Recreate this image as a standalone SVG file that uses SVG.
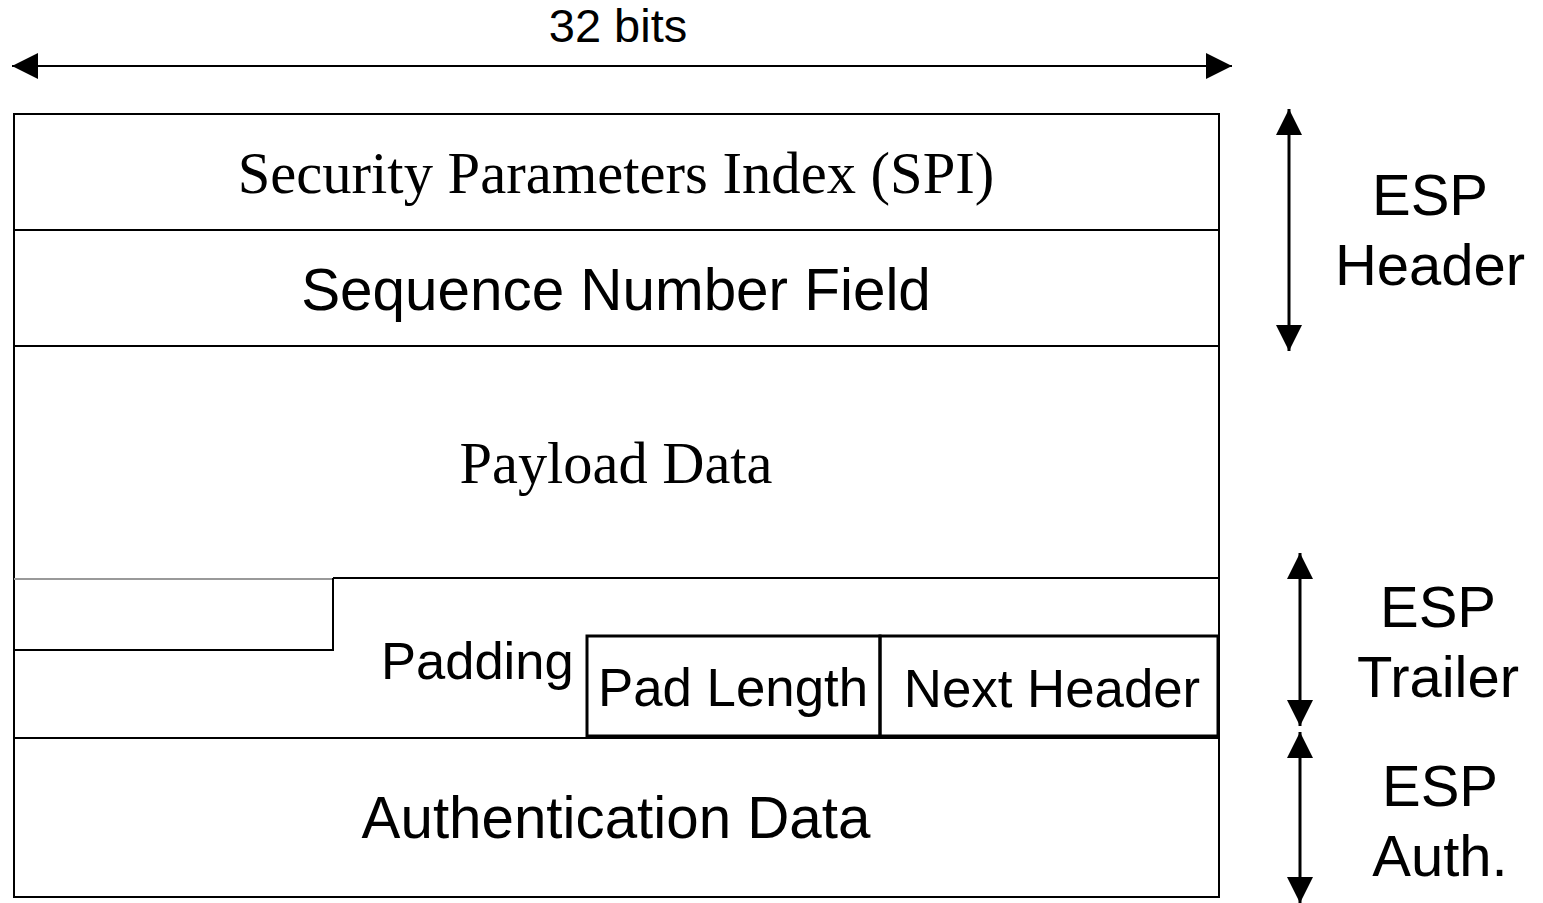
<svg xmlns="http://www.w3.org/2000/svg" width="1543" height="903" viewBox="0 0 1543 903">
<style>
.ln{stroke:#000;stroke-width:2;fill:none}
.bx{stroke:#000;stroke-width:3;fill:none}
.ar{stroke:#000;stroke-width:3;fill:none}
.sans{font-family:"Liberation Sans",Arial,sans-serif;fill:#000}
.serif{font-family:"Liberation Serif","Times New Roman",serif;fill:#000}
</style>
<defs>
<marker id="ah" markerUnits="userSpaceOnUse" markerWidth="28" markerHeight="28" refX="26" refY="13" orient="auto-start-reverse" viewBox="0 0 28 26">
<path d="M0,0 L26,13 L0,26 Z" fill="#000"/>
</marker>
</defs>
<rect width="1543" height="903" fill="#fff"/>
<g id="connectors">
<line class="ln" x1="12" y1="66" x2="1232" y2="66" marker-start="url(#ah)" marker-end="url(#ah)"/>
<line class="ar" x1="1289" y1="109" x2="1289" y2="351" marker-start="url(#ah)" marker-end="url(#ah)"/>
<line class="ar" x1="1300" y1="553" x2="1300" y2="726" marker-start="url(#ah)" marker-end="url(#ah)"/>
<line class="ar" x1="1300" y1="732" x2="1300" y2="903" marker-start="url(#ah)" marker-end="url(#ah)"/>
</g>
<text class="sans" x="618" y="42" font-size="47" text-anchor="middle">32 bits</text>
<g id="frame">
<rect class="ln" x="14" y="114" width="1205" height="783"/>
</g>
<g id="spi">
<line class="ln" x1="14" y1="230" x2="1219" y2="230"/>
<text class="serif" x="616" y="193" font-size="58.6" text-anchor="middle">Security Parameters Index (SPI)</text>
</g>
<g id="seq">
<line class="ln" x1="14" y1="346" x2="1219" y2="346"/>
<text class="sans" x="616" y="310" font-size="58.4" text-anchor="middle">Sequence Number Field</text>
</g>
<g id="payload">
<text class="serif" x="616" y="483" font-size="58.4" text-anchor="middle">Payload Data</text>
<line class="ln" x1="333" y1="578" x2="1219" y2="578"/>
<line x1="14" y1="579" x2="333" y2="579" stroke="#999" stroke-width="2"/>
</g>
<g id="padding">
<path class="ln" d="M14,650 H333 V578"/>
<text class="sans" x="381" y="679" font-size="52.5">Padding</text>
</g>
<g id="padlength">
<rect class="bx" x="587" y="636" width="293" height="100"/>
<text class="sans" x="733" y="706" font-size="52.8" text-anchor="middle">Pad Length</text>
</g>
<g id="nextheader">
<rect class="bx" x="880" y="636" width="338" height="100"/>
<text class="sans" x="1052" y="707" font-size="52.8" text-anchor="middle">Next Header</text>
</g>
<g id="auth">
<line class="ln" x1="14" y1="738" x2="1219" y2="738"/>
<text class="sans" x="616" y="838" font-size="58.3" text-anchor="middle">Authentication Data</text>
</g>
<g id="lbl-header">
<text class="sans" x="1430" y="215" font-size="58" text-anchor="middle">ESP</text>
<text class="sans" x="1430" y="285" font-size="58" text-anchor="middle">Header</text>
</g>
<g id="lbl-trailer">
<text class="sans" x="1438" y="627" font-size="58" text-anchor="middle">ESP</text>
<text class="sans" x="1438" y="697" font-size="58" text-anchor="middle">Trailer</text>
</g>
<g id="lbl-auth">
<text class="sans" x="1440" y="806" font-size="58" text-anchor="middle">ESP</text>
<text class="sans" x="1440" y="876" font-size="58" text-anchor="middle">Auth.</text>
</g>
</svg>
